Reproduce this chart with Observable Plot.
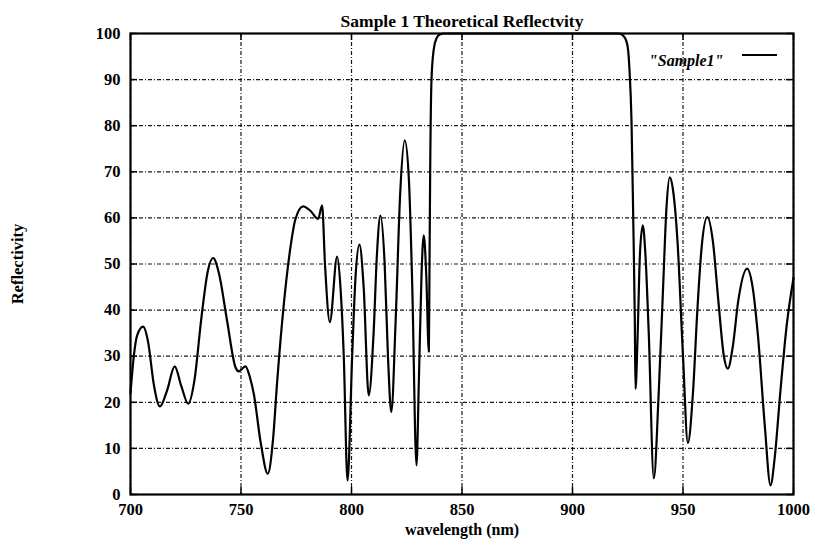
<!DOCTYPE html>
<html>
<head>
<meta charset="utf-8">
<script src="https://cdn.jsdelivr.net/npm/d3@7"></script>
<script src="https://cdn.jsdelivr.net/npm/@observablehq/plot@0.6"></script>
<style>
  html, body { margin: 0; padding: 0; background: white; }
</style>
</head>
<body>
<div id="chart"></div>
<script>
const title = "Sample 1 Theoretical Reflectvity";
const xLabel = "wavelength (nm)";
const yLabel = "Reflectivity";
const seriesName = "\"Sample1\"";
const xTicks = [700, 750, 800, 850, 900, 950, 1000];
const yTicks = [0, 10, 20, 30, 40, 50, 60, 70, 80, 90, 100];

const wavelength = [
  700, 701.5, 703, 705.7, 708, 710.5, 713.3, 716.5, 720, 723, 726.1, 729, 732, 735, 737.4, 740,
  743.7, 747.5, 749, 752, 754, 755.8, 759, 762.1, 764.5, 766.4, 769.4, 772.4, 774.5, 778.1, 781.5,
  784.9, 786.7, 788, 790.2, 793.5, 795, 796.5, 798.2, 800.3, 801.8, 803.6, 805.5, 807.8, 810, 811.5,
  813.1, 815, 816.5, 818, 820, 822, 824.1, 826, 827.5, 829.4, 830.5, 831.7, 832.7, 833.8, 835,
  835.3, 835.6, 836.2, 837.2, 838.5, 840, 842, 921, 923.5, 925, 925.8, 926.7, 927.5, 928.2, 928.5,
  929.5, 930.5, 931.8, 933, 934.5, 936.8, 939, 941, 942.5, 944, 945.5, 947.5, 950, 952.2, 954.5,
  956.5, 958.5, 961, 963.5, 966, 968.5, 970.3, 972.5, 975, 979, 981.5, 984, 987, 989.6, 991.5,
  994, 997, 1000
];
const reflectivity = [
  22, 30, 34.5, 36.4, 33, 24, 19.1, 22.5, 27.8, 23.5, 19.7, 25, 38, 48.5, 51.3, 48,
  37.7, 27.6, 26.7, 27.8, 25.5, 21.8, 11, 4.5, 12, 24.7, 41.4, 53.7, 59.5, 62.5, 61.5,
  59.8, 62.7, 50, 37.4, 51.6, 45, 30, 3, 30, 47, 54.2, 45, 21.5, 35, 52,
  60.5, 50, 30, 17.9, 38, 65, 76.8, 68, 45, 6.3, 25, 48, 56.2, 48, 31,
  50, 70, 90, 96.5, 99, 99.8, 100, 100, 99.2, 97, 92, 81, 59.4, 37.7, 22.9,
  35, 52, 58.4, 52, 35, 3.5, 22, 45, 62, 68.8, 66, 55, 30, 11.2, 22,
  40, 54, 60.2, 55, 42, 30, 27.3, 32, 42, 49, 45, 34, 15, 2, 8,
  22, 37, 47
];

const data = wavelength.map((w, i) => ({w, r: reflectivity[i]}));

const W = 813, H = 542;
const mL = 130, mR = 20, mT = 33, mB = 48;
const frameW = W - mL - mR, frameH = H - mT - mB;
const tickLen = 7;
const gridStyle = {stroke: "black", strokeOpacity: 0.9, strokeWidth: 1.2, strokeDasharray: "4,2,1,2"};

const plot = Plot.plot({
  width: W,
  height: H,
  marginLeft: mL,
  marginRight: mR,
  marginTop: mT,
  marginBottom: mB,
  style: {fontFamily: "'Liberation Serif', serif", fontSize: "16px", fontWeight: "bold", background: "white", color: "black", overflow: "visible"},
  x: {domain: [700, 1000], ticks: xTicks, tickFormat: "d"},
  y: {domain: [0, 100], ticks: yTicks, tickFormat: "d"},
  marks: [
    Plot.gridX(xTicks, gridStyle),
    Plot.gridY(yTicks, gridStyle),
    Plot.tickX(xTicks, {x: d => d, stroke: "black", strokeWidth: 1.5, insetTop: frameH - tickLen}),
    Plot.tickX(xTicks, {x: d => d, stroke: "black", strokeWidth: 1.5, insetBottom: frameH - tickLen}),
    Plot.tickY(yTicks, {y: d => d, stroke: "black", strokeWidth: 1.5, insetRight: frameW - tickLen}),
    Plot.tickY(yTicks, {y: d => d, stroke: "black", strokeWidth: 1.5, insetLeft: frameW - tickLen}),
    Plot.axisX(xTicks, {tickSize: 0, tickPadding: 9, label: null, fontSize: 16.5, tickFormat: "d"}),
    Plot.axisY(yTicks, {tickSize: 0, tickPadding: 10, label: null, fontSize: 16.5, tickFormat: "d"}),
    Plot.line(data, {x: "w", y: "r", curve: "monotone-x", stroke: "black", strokeWidth: 2.2}),
    Plot.frame({stroke: "black", strokeWidth: 2.2}),
    Plot.text([title], {frameAnchor: "top", dy: -19, fontSize: 17.5, fontWeight: "bold"}),
    Plot.text([xLabel], {frameAnchor: "bottom", dy: 40, fontSize: 16, fontWeight: "bold"}),
    Plot.text([yLabel], {frameAnchor: "left", dx: -113, rotate: -90, textAnchor: "middle", fontSize: 16.5, fontWeight: "bold"}),
    Plot.text([seriesName], {frameAnchor: "top-right", dx: -70, dy: 21, textAnchor: "end", fontSize: 16, fontWeight: "bold", fontStyle: "italic"})
  ]
});

// legend sample line, placed relative to the frame's top-right corner
d3.select(plot).append("line")
  .attr("x1", W - mR - 51).attr("x2", W - mR - 16)
  .attr("y1", mT + 22).attr("y2", mT + 22)
  .attr("stroke", "black").attr("stroke-width", 2.2);

document.getElementById("chart").appendChild(plot);
</script>
</body>
</html>
